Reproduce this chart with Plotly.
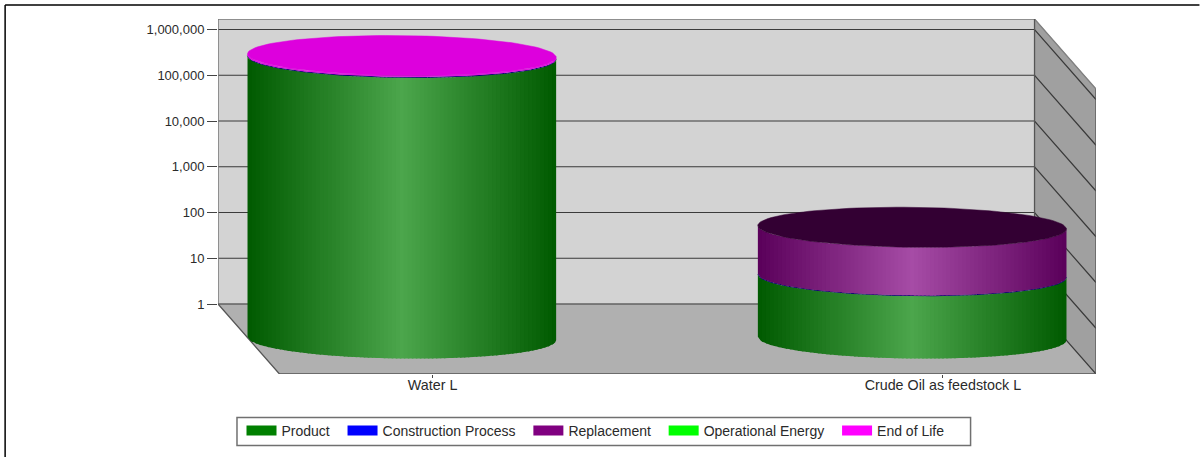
import numpy as np
import plotly.graph_objects as go

# ---- data
categories = ["Water L", "Crude Oil as feedstock L"]
series_names = ["Product", "Construction Process", "Replacement", "Operational Energy", "End of Life"]
product = [1370000, 23.2]
construction = [50000, 0.8]
replacement = [0, 246]
operational = [0, 0]
end_of_life = [110000, 0]
y_ticks = [1, 10, 100, 1000, 10000, 100000, 1000000]
y_tick_labels = ["1", "10", "100", "1,000", "10,000", "100,000", "1,000,000"]

# ---- styling
legend_colors = ["#008000", "#0000ff", "#800080", "#00ff00", "#ff00ff"]
band_dark = [(0, 90, 0), (0, 0, 110), (90, 0, 90), (0, 90, 0), (225, 20, 225)]
band_light = [(76, 166, 76), (0, 0, 130), (166, 76, 166), (76, 166, 76), (235, 30, 235)]
top_colors = ["#003300", "#000033", "#330033", "#003300", "#dd00dd"]

W, H = 1200, 457
L, R, T, B = 218, 1096.5, 19, 374
BASE_PX = 304
PX_DECADE = 45.75
WALL_W = 817
DX, DY = 61.5, 70
RX, RY, TILT = 154.4, 20, 1.7
N_STRIPS = 77

dec = lambda px: px / PX_DECADE
v = lambda d: 10.0 ** np.asarray(d, dtype=float)
wall_top = dec(BASE_PX - T)
floor_low = -dec(DY)

fig = go.Figure()


def poly(xs, ds, fill, line=None, width=1):
    fig.add_trace(go.Scatter(
        x=list(xs), y=list(v(ds)), mode="lines", fill="toself", fillcolor=fill,
        line=dict(color=line or fill, width=width), showlegend=False, hoverinfo="skip"))


def segs(xs, ds, color, width=1):
    fig.add_trace(go.Scatter(
        x=list(xs), y=list(v(ds)), mode="lines",
        line=dict(color=color, width=width), showlegend=False, hoverinfo="skip"))


# chart box
poly([0, WALL_W, WALL_W, 0, 0], [0, 0, wall_top, wall_top, 0], "#d3d3d3")
poly([WALL_W, WALL_W + DX, WALL_W + DX, WALL_W], [wall_top, wall_top - dec(DY), floor_low, 0], "#a0a0a0")
poly([0, WALL_W, WALL_W + DX, DX], [0, 0, floor_low, floor_low], "#b0b0b0")

# grid lines on the back and side walls
for t in y_ticks:
    d = np.log10(t)
    segs([0, WALL_W, WALL_W + DX], [d, d, d - dec(DY)], "#3a3a3a", 1.2)

# box edges
segs([WALL_W, 0, 0], [wall_top, wall_top, 0], "#7a7a7a", 1.5)
segs([0, DX, WALL_W + DX, WALL_W + DX], [0, floor_low, floor_low, wall_top - dec(DY)], "#555555", 1.3)
segs([WALL_W, WALL_W + DX], [wall_top, wall_top - dec(DY)], "#808080", 1.3)
segs([WALL_W, WALL_W], [wall_top, 0], "#555555", 1.3)

# cylinders
bar_cx = [WALL_W * 3 / 16 + DX / 2, WALL_W * 13 / 16 + DX / 2]
stack = [product, construction, replacement, operational, end_of_life]
for c, cx in enumerate(bar_cx):
    center_offset = -dec(DY / 2 - 0.5)
    total = 0.0
    last = 0
    edges = np.linspace(-1, 1, N_STRIPS + 1)
    overlap = 1.5 / RX
    for s, values in enumerate(stack):
        val = values[c]
        if val <= 0:
            continue
        lo = np.log10(total) if total > 0 else 0.0
        total += val
        hi = np.log10(total)
        last = s
        band_px = (hi - lo) * PX_DECADE
        if band_px < 3:
            # a band this thin is a single stroke along the front arc
            u = np.linspace(-1, 1, 121)
            arc = np.sqrt(1 - u ** 2) * RY + TILT * u
            segs(cx + RX * u, center_offset + (lo + hi) / 2 - dec(arc),
                 f"rgb{band_dark[s]}", max(band_px, 1))
            continue
        for a, b in zip(edges[:-1], edges[1:]):
            u = np.linspace(a, min(b + overlap, 1.0), 5)
            arc = np.sqrt(np.clip(1 - u ** 2, 0, 1)) * RY + TILT * u
            xs = cx + RX * u
            mid = 1 - abs((a + b) / 2)
            col = tuple(int(round(d + (l - d) * mid)) for d, l in zip(band_dark[s], band_light[s]))
            css = f"rgb{col}"
            ds_lo = center_offset + lo - dec(arc)
            ds_hi = center_offset + hi - dec(arc)
            poly(np.r_[xs, xs[::-1]], np.r_[ds_lo, ds_hi[::-1]], css, css, 0)
    t = np.linspace(0, 2 * np.pi, 121)
    xs = cx + RX * np.cos(t)
    ds = center_offset + np.log10(total) - dec(RY * np.sin(t) + TILT * np.cos(t))
    poly(xs, ds, top_colors[last], top_colors[last], 0.5)

# legend entries
for name, col in zip(series_names, legend_colors):
    fig.add_trace(go.Scatter(x=[None], y=[None], mode="lines", name=name + "\u00a0\u00a0",
                             line=dict(color=col, width=10)))

px_x = lambda p: (p - L) / (R - L)
px_y = lambda p: (B - p) / (B - T)
for x0, y0, x1, y1 in [(5, 5, W, 5), (5, 5, 5, H)]:
    fig.add_shape(type="line", xref="paper", yref="paper",
                  x0=px_x(x0), y0=px_y(y0), x1=px_x(x1), y1=px_y(y1),
                  line=dict(color="black", width=1.5))
fig.add_shape(type="rect", xref="paper", yref="paper",
              x0=px_x(237), y0=px_y(417.5), x1=px_x(971), y1=px_y(445.5),
              line=dict(color="#707070", width=1.5), fillcolor="white", layer="below")

fig.update_layout(
    width=W, height=H, autosize=False,
    margin=dict(l=L, r=W - R, t=T, b=H - B, pad=0),
    paper_bgcolor="white", plot_bgcolor="white",
    font=dict(family="Liberation Sans", size=13, color="#2a2a2a"),
    hovermode=False,
    xaxis=dict(range=[0, R - L], showgrid=False, zeroline=False, showline=False,
               tickmode="array", tickvals=[c + DX / 2 for c in np.array(bar_cx)],
               ticktext=categories, ticks="outside", ticklen=3, tickcolor="#444444",
               tickfont=dict(size=14.3), ticklabelstandoff=-5),
    yaxis=dict(type="log", range=[floor_low, wall_top], showgrid=False, zeroline=False, showline=False,
               tickmode="array", tickvals=y_ticks, ticktext=y_tick_labels,
               ticks="outside", ticklen=10, tickcolor="#444444"),
    legend=dict(orientation="h", xref="container", yref="container",
                x=241.5 / W, xanchor="left", y=1 - 415 / H, yanchor="top",
                borderwidth=0, bgcolor="rgba(0,0,0,0)",
                font=dict(size=14), itemsizing="trace", itemclick=False, itemdoubleclick=False),
)

fig.write_html("out.html", config=dict(displayModeBar=False),
               post_script="document.body.style.margin='0';")
